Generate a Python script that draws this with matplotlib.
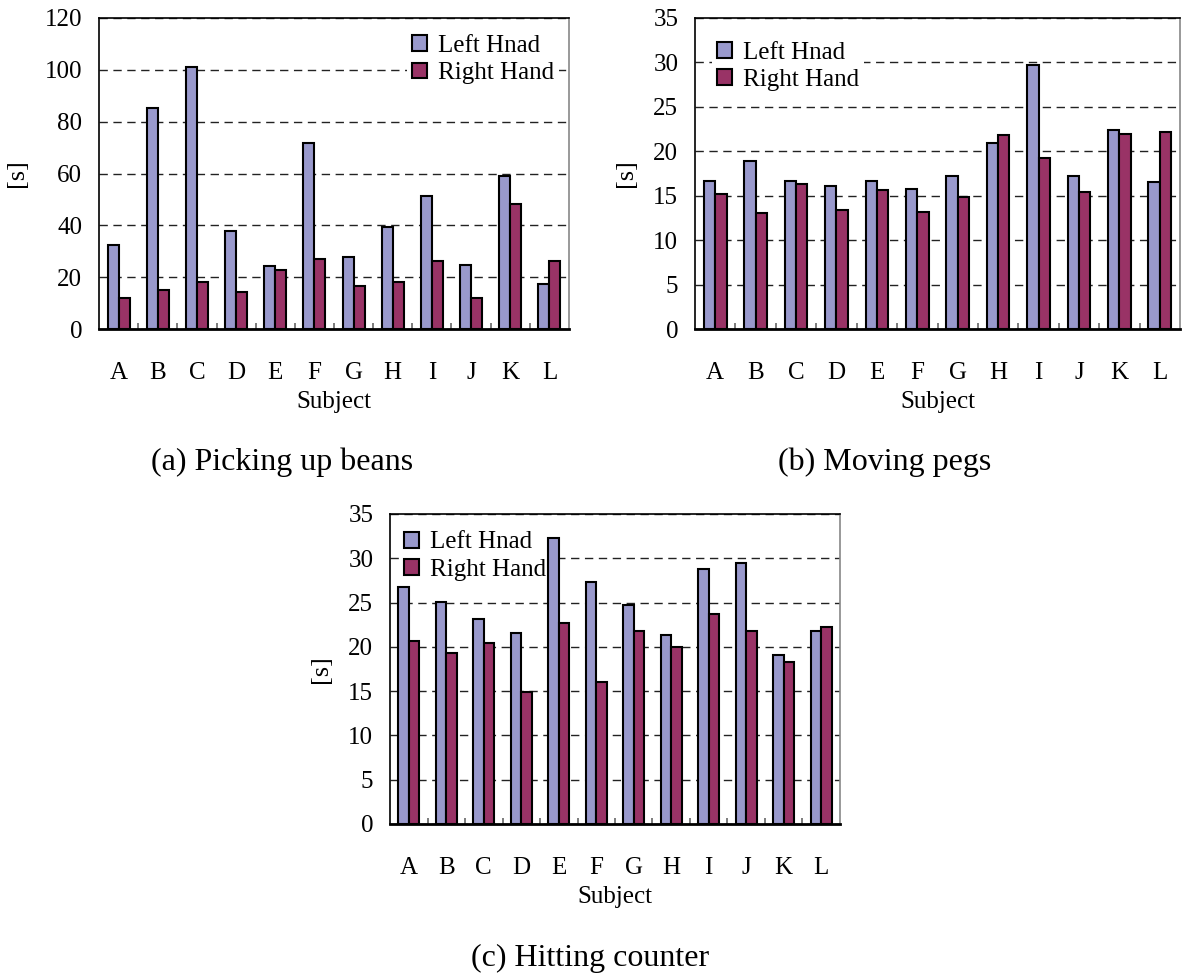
import numpy as np
import matplotlib
matplotlib.use("Agg")
import matplotlib.pyplot as plt
from matplotlib.ticker import FixedLocator

plt.rcParams['font.family'] = ['Liberation Serif', 'DejaVu Serif']

subjects = ['A', 'B', 'C', 'D', 'E', 'F', 'G', 'H', 'I', 'J', 'K', 'L']

# (a) picking up beans
beans_left = [32.4, 85.1, 101.0, 37.8, 24.2, 71.6, 27.9, 39.2, 51.2, 24.8, 58.9, 17.4]
beans_right = [12.1, 15.0, 18.0, 14.3, 22.6, 27.1, 16.6, 18.0, 26.4, 12.1, 48.2, 26.4]

# (b) moving pegs
pegs_left = [16.7, 18.9, 16.7, 16.1, 16.7, 15.8, 17.2, 20.9, 29.7, 17.2, 22.4, 16.5]
pegs_right = [15.2, 13.0, 16.3, 13.4, 15.6, 13.2, 14.8, 21.8, 19.2, 15.4, 22.0, 22.2]

# (c) hitting counter
counter_left = [26.8, 25.1, 23.1, 21.6, 32.3, 27.3, 24.7, 21.3, 28.8, 29.5, 19.1, 21.8]
counter_right = [20.7, 19.3, 20.4, 14.9, 22.7, 16.0, 21.8, 20.0, 23.7, 21.8, 18.3, 22.2]

series_names = ['Left Hnad', 'Right Hand']
left_color = '#9999cc'
right_color = '#993366'

W, H = 1182, 976
fig = plt.figure(figsize=(W / 100, H / 100), dpi=100)


def px_axes(l, t, r, b):
    return fig.add_axes([l / W, 1 - b / H, (r - l) / W, (b - t) / H])


def draw_panel(ax, left, right, ymax, ystep, legend_anchor):
    x = np.arange(len(subjects))
    bw = 0.28
    ax.bar(x - bw / 2, left, bw, color=left_color, edgecolor='black',
           linewidth=1.5, label=series_names[0], zorder=3)
    ax.bar(x + bw / 2, right, bw, color=right_color, edgecolor='black',
           linewidth=1.5, label=series_names[1], zorder=3)
    ax.set_xlim(-0.5, len(subjects) - 0.5)
    ax.set_ylim(0, ymax)
    ax.set_yticks(np.arange(0, ymax + 0.1, ystep))
    ax.set_xticks(x)
    ax.set_xticklabels(subjects)
    ax.xaxis.set_minor_locator(FixedLocator(np.arange(0.5, len(subjects) - 0.5, 1)))
    ax.tick_params(axis='x', which='major', length=0, pad=24, labelsize=18)
    ax.tick_params(axis='x', which='minor', direction='in', length=4,
                   color='#666666', width=1.2)
    ax.tick_params(axis='y', which='major', length=0, pad=12, labelsize=18)
    ax.yaxis.grid(True, linestyle=(0, (6, 4)), color='#222222', linewidth=1.0, zorder=0)
    ax.set_axisbelow(True)
    for s in ['left', 'top', 'bottom']:
        ax.spines[s].set_color('black')
    ax.spines['bottom'].set_linewidth(2.0)
    ax.spines['left'].set_linewidth(1.2)
    ax.spines['top'].set_linewidth(1.2)
    ax.spines['right'].set_color('#888888')
    ax.spines['right'].set_linewidth(1.2)
    ax.set_xlabel('Subject', fontsize=18, labelpad=5)
    ax.set_ylabel('[s]', fontsize=19, labelpad=12)
    leg = ax.legend(loc='upper left', bbox_to_anchor=legend_anchor, fontsize=18,
                    handlelength=0.6, handleheight=0.6, handletextpad=0.45,
                    labelspacing=0.22, borderpad=0.2, borderaxespad=0,
                    frameon=True, fancybox=False, framealpha=1)
    leg.get_frame().set_edgecolor('none')
    leg.get_frame().set_facecolor('white')
    # legend box sits over the grid but under the bars
    leg.set_zorder(2.5)


ax_a = px_axes(99, 18, 569, 329)
draw_panel(ax_a, beans_left, beans_right, 120, 20, (0.655, 0.962))

ax_b = px_axes(695, 18, 1180, 329)
draw_panel(ax_b, pegs_left, pegs_right, 35, 5, (0.035, 0.94))

ax_c = px_axes(390, 514, 840, 824)
draw_panel(ax_c, counter_left, counter_right, 35, 5, (0.02, 0.96))

fig.text(282 / W, 1 - 462 / H, '(a) Picking up beans', fontsize=23, ha='center', va='center')
fig.text(885 / W, 1 - 462 / H, '(b) Moving pegs', fontsize=23, ha='center', va='center')
fig.text(590 / W, 1 - 958 / H, '(c) Hitting counter', fontsize=23, ha='center', va='center')

fig.savefig('out.png', dpi=100, facecolor='white')
